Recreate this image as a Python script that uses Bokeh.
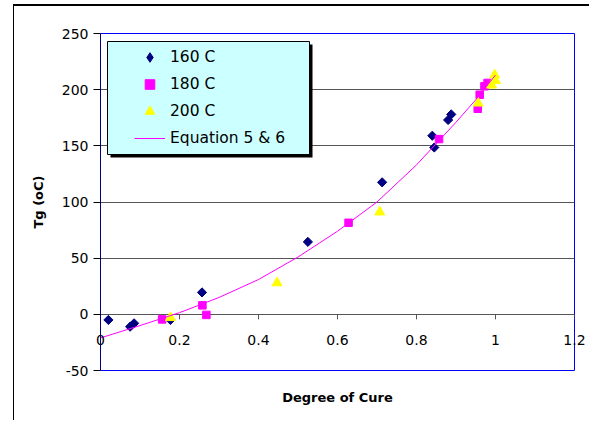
import numpy as np
from bokeh.plotting import figure
from bokeh.models import (Range1d, FixedTicker, NumeralTickFormatter, Legend,
                          LegendItem, BoxAnnotation, Title)
from bokeh.embed import file_html
from bokeh.resources import INLINE

# ---- data ----
x160 = [0.02, 0.075, 0.085, 0.177, 0.257, 0.525, 0.713, 0.84, 0.845, 0.88, 0.888]
y160 = [-5, -11, -8, -5, 19.5, 64.5, 117.5, 159, 148.5, 173, 178]

x180 = [0.156, 0.258, 0.268, 0.628, 0.857, 0.955, 0.96, 0.972, 0.98]
y180 = [-4.5, 8, -0.5, 81.5, 156, 183, 195.5, 203, 206]

x200 = [0.177, 0.447, 0.707, 0.956, 0.99, 0.998, 1.0]
y200 = [-3, 28, 91, 188, 204, 213, 208]

eq_x = [0, 0.1, 0.2, 0.3, 0.4, 0.5, 0.6, 0.7, 0.8, 0.9, 0.95, 1.0]
eq_y = [-21, -10, 1.5, 15, 31, 51, 74, 100, 133, 171, 191, 213]

xticks = [0, 0.2, 0.4, 0.6, 0.8, 1.0, 1.2]
yticks = [-50, 0, 50, 100, 150, 200, 250]

series_names = ["160 C", "180 C", "200 C", "Equation 5 & 6"]
x_title = "Degree of Cure"
y_title = "Tg (oC)"

GRID = "#555555"
FONT = "DejaVu Sans"

p = figure(frame_width=474, frame_height=337,
           x_range=Range1d(0, 1.2), y_range=Range1d(-50, 250),
           output_backend="svg", toolbar_location=None,
           min_border_left=86, min_border_right=16,
           min_border_top=27, min_border_bottom=52)
p.styles = {"position": "relative", "left": "14px", "top": "6px",
            "box-shadow": "-1px -2px 0px 0px black"}

p.background_fill_color = "white"
p.border_fill_color = "white"
p.outline_line_color = "#0000FF"
p.outline_line_width = 1

# grid
p.xgrid.visible = False
p.ygrid.ticker = FixedTicker(ticks=yticks)
p.ygrid.grid_line_color = GRID
p.ygrid.grid_line_width = 1

# y axis
p.yaxis.ticker = FixedTicker(ticks=yticks)
p.yaxis.formatter = NumeralTickFormatter(format="0")
p.yaxis.axis_line_color = "#000080"
p.yaxis.major_tick_line_color = "black"
p.yaxis.major_tick_out = 7
p.yaxis.major_tick_in = 0
p.yaxis.minor_tick_line_color = None
p.yaxis.major_label_standoff = 5
p.yaxis.major_label_text_font = FONT
p.yaxis.major_label_text_font_size = "14px"
p.yaxis.major_label_text_color = "black"

# x axis: labels drawn up at the y = 0 line
xa = p.xaxis[0]
xa.ticker = FixedTicker(ticks=xticks)
xa.formatter = NumeralTickFormatter(format="0.[0]")
xa.axis_line_color = None
xa.major_tick_line_color = None
xa.minor_tick_line_color = None
xa.major_tick_out = 0
xa.major_tick_in = 0
xa.major_label_standoff = -36
xa.major_label_text_font = FONT
xa.major_label_text_font_size = "14px"
xa.major_label_text_color = "black"

# small tick marks hanging below the y = 0 line
p.ray(x=xticks, y=[0] * len(xticks), length=5, length_units="screen",
      angle=-np.pi / 2, line_color=GRID, line_width=1)

# glyphs
r160 = p.scatter(x160, y160, marker="square", angle=np.pi / 4, size=6.5,
                 fill_color="#000080", line_color="#000080")
r180 = p.scatter(x180, y180, marker="square", size=7.5,
                 fill_color="#FF00FF", line_color="#FF00FF")
r200 = p.scatter(x200, y200, marker="triangle", size=10,
                 fill_color="#FFFF00", line_color="#FFFF00")
req = p.line(eq_x, eq_y, line_color="#FF00FF", line_width=1)
# legend proxy for the diamond (legend glyphs are not rotated); NaN = not drawn
r160_leg = p.scatter([float("nan")], [float("nan")], marker="diamond", size=10,
                     fill_color="#000080", line_color="#000080")

# legend box with shadow (screen units, relative to the frame)
shadow = BoxAnnotation(left=10, right=212, top=326, bottom=213,
                       left_units="screen", right_units="screen",
                       top_units="screen", bottom_units="screen",
                       fill_color="black", fill_alpha=1, line_color=None)
box = BoxAnnotation(left=7, right=209, top=329, bottom=216,
                    left_units="screen", right_units="screen",
                    top_units="screen", bottom_units="screen",
                    fill_color="#CCFFFF", fill_alpha=1,
                    line_color="black", line_alpha=1, line_width=1)
p.add_layout(shadow)
p.add_layout(box)

legend = Legend(items=[LegendItem(label=series_names[0], renderers=[r160_leg]),
                       LegendItem(label=series_names[1], renderers=[r180]),
                       LegendItem(label=series_names[2], renderers=[r200]),
                       LegendItem(label=series_names[3], renderers=[req])],
                location=(34, 220), padding=2, spacing=3,
                glyph_width=31, glyph_height=24, label_height=24,
                label_standoff=5, margin=0,
                background_fill_alpha=0, border_line_color=None,
                label_text_font=FONT, label_text_font_size="15.5px",
                label_text_color="black")
p.add_layout(legend)

# axis titles
ytitle = Title(text=y_title, align="center", offset=-13, standoff=26,
               text_font=FONT, text_font_style="bold",
               text_font_size="13px", text_color="black")
xtitle = Title(text=x_title, align="center", offset=-42, standoff=34,
               text_font=FONT, text_font_style="bold",
               text_font_size="13px", text_color="black")
p.add_layout(ytitle, "left")
p.add_layout(xtitle, "below")

open("out.html", "w").write(file_html(p, INLINE))
